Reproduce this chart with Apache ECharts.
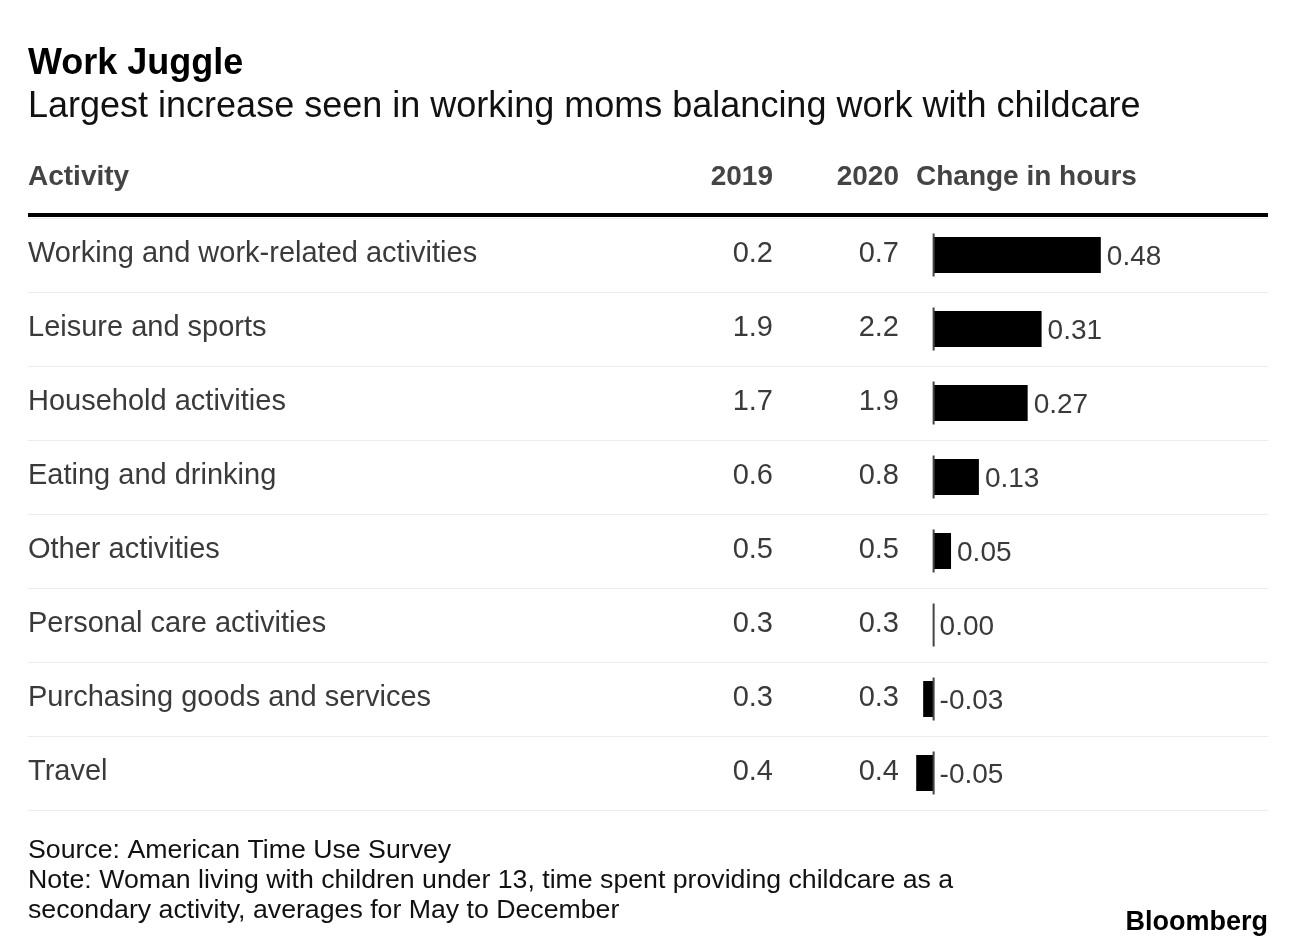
<!DOCTYPE html>
<html>
<head>
<meta charset="utf-8">
<script src="https://cdn.jsdelivr.net/npm/echarts@6/dist/echarts.min.js"></script>
<style>
html,body{margin:0;padding:0;background:#fff;}
#chart{width:1296px;height:948px;}
</style>
</head>
<body>
<div id="chart"></div>
<script>
const activities = [
  'Working and work-related activities',
  'Leisure and sports',
  'Household activities',
  'Eating and drinking',
  'Other activities',
  'Personal care activities',
  'Purchasing goods and services',
  'Travel'
];
const hours2019 = [0.2, 1.9, 1.7, 0.6, 0.5, 0.3, 0.3, 0.4];
const hours2020 = [0.7, 2.2, 1.9, 0.8, 0.5, 0.3, 0.3, 0.4];
const changeHours = [0.48, 0.31, 0.27, 0.13, 0.05, 0.00, -0.03, -0.05];

const FONT = '"Liberation Sans", Arial, Helvetica, sans-serif';
const chart = echarts.init(document.getElementById('chart'), null, {renderer: 'canvas'});

const option = {
  backgroundColor: '#fff',
  animation: false,
  textStyle: {fontFamily: FONT},
  grid: {left: 28, right: 28, top: 218, height: 592, containLabel: false},
  xAxis: {
    type: 'value', position: 'top', min: -2.6, max: 0.96, offset: 3,
    axisLine: {show: true, onZero: false, lineStyle: {color: '#000', width: 4, cap: 'butt'}},
    axisTick: {show: false}, axisLabel: {show: false}, splitLine: {show: false}
  },
  yAxis: {
    type: 'category', inverse: true, data: activities,
    axisLine: {show: false}, axisTick: {show: false},
    splitLine: {show: true, lineStyle: {color: '#ececec', width: 1}},
    axisLabel: {
      inside: true, margin: 0, align: 'left',
      formatter: function (v, i) {
        return '{n|' + v + '}{a|' + hours2019[i].toFixed(1) + '}{b|' + hours2020[i].toFixed(1) + '}';
      },
      rich: {
        n: {width: 650, align: 'left', fontSize: 29, color: '#3a3a3a', fontFamily: FONT, padding: [0,0,3,0]},
        a: {width: 95, align: 'right', fontSize: 29, color: '#3a3a3a', fontFamily: FONT, padding: [0,0,3,0]},
        b: {width: 126, align: 'right', fontSize: 29, color: '#3a3a3a', fontFamily: FONT, padding: [0,0,3,0]}
      }
    }
  },
  series: [
    {
      type: 'bar', data: changeHours, barWidth: 36,
      itemStyle: {color: '#000'}, z: 2
    },
    {
      type: 'scatter', symbolSize: 0, z: 4,
      itemStyle: {opacity: 1},
      data: changeHours.map((v, i) => [Math.max(v, 0), i, v]),
      label: {
        show: true, position: 'right', distance: 6, offset: [0, 2],
        formatter: p => p.value[2].toFixed(2),
        fontSize: 28, color: '#3a3a3a', fontFamily: FONT
      }
    },
    {
      type: 'custom', z: 5,
      data: changeHours.map((v, i) => [0, i]),
      renderItem: function (params, api) {
        const p = api.coord([0, api.value(1)]);
        return {
          type: 'line',
          shape: {x1: p[0], y1: p[1] - 21.5, x2: p[0], y2: p[1] + 21.5},
          style: {stroke: '#444', lineWidth: 2}
        };
      }
    }
  ],
  graphic: [
    {type: 'text', left: 28, top: 46, style: {text: 'Work Juggle', font: 'bold 36px ' + FONT, fill: '#000'}},
    {type: 'text', left: 28, top: 89, style: {text: 'Largest increase seen in working moms balancing work with childcare', font: '36px ' + FONT, fill: '#111'}},
    {type: 'text', left: 28, top: 163, style: {text: 'Activity', font: 'bold 28px ' + FONT, fill: '#444'}},
    {type: 'text', right: 1296 - 773, top: 163, style: {text: '2019', font: 'bold 28px ' + FONT, fill: '#444'}},
    {type: 'text', right: 1296 - 899, top: 163, style: {text: '2020', font: 'bold 28px ' + FONT, fill: '#444'}},
    {type: 'text', left: 916, top: 163, style: {text: 'Change in hours', font: 'bold 28px ' + FONT, fill: '#444'}},
    {type: 'text', left: 28, top: 837, style: {text: 'Source: American Time Use Survey', font: '26.7px ' + FONT, fill: '#111'}},
    {type: 'text', left: 28, top: 867, style: {text: 'Note: Woman living with children under 13, time spent providing childcare as a', font: '26.7px ' + FONT, fill: '#111'}},
    {type: 'text', left: 28, top: 897, style: {text: 'secondary activity, averages for May to December', font: '26.7px ' + FONT, fill: '#111'}},
    {type: 'text', right: 28, top: 909, style: {text: 'Bloomberg', font: 'bold 27px ' + FONT, fill: '#000'}}
  ]
};
chart.setOption(option);
</script>
</body>
</html>
